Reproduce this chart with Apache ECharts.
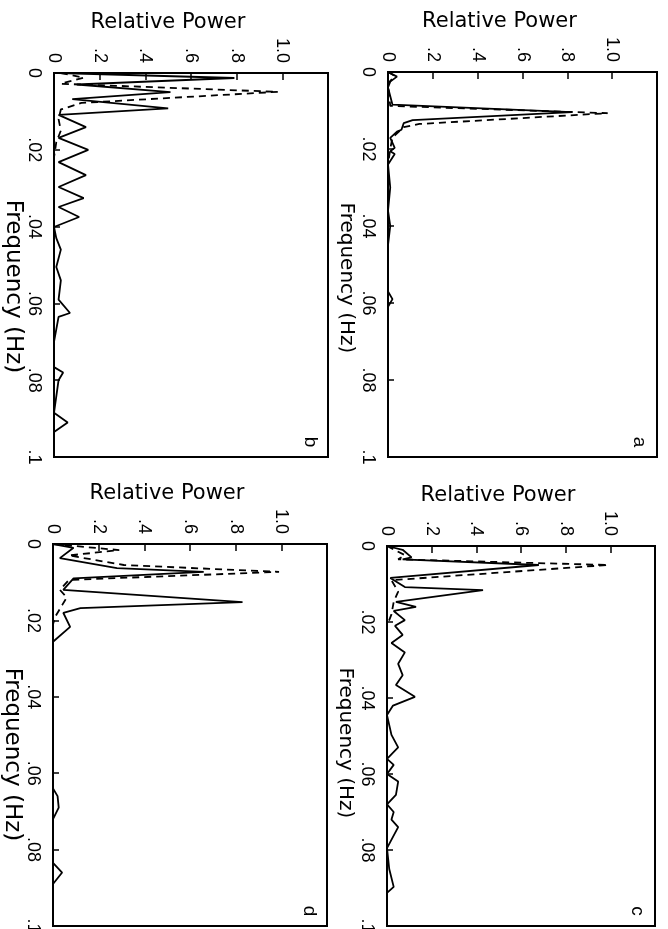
<!DOCTYPE html>
<html>
<head>
<meta charset="utf-8">
<title>Relative Power spectra</title>
<script src="https://cdn.jsdelivr.net/npm/echarts@6/dist/echarts.min.js"></script>
<style>
html, body { margin: 0; padding: 0; background: #fff; }
#chart { width: 668px; height: 929px; }
</style>
</head>
<body>
<div id="chart"></div>
<script>
// each point is [frequency (Hz), relative power]
const bSolid = [
    [0, 0.02], [0.0013, 0.79], [0.003, 0.10], [0.005, 0.51], [0.0068, 0.08], [0.0092, 0.50],
    [0.0109, 0.02], [0.0141, 0.14], [0.0169, 0.02], [0.020, 0.15], [0.0232, 0.02], [0.0266, 0.14],
    [0.0297, 0.02], [0.0326, 0.13], [0.0349, 0.02], [0.0375, 0.11], [0.0401, 0.0], [0.043, 0.01],
    [0.046, 0.03], [0.0505, 0.01], [0.054, 0.03], [0.059, 0.02], [0.0625, 0.07], [0.0635, 0.02],
    [0.070, 0.0], [0.0766, 0.0], [0.078, 0.04], [0.080, 0.02], [0.0885, 0.0], [0.091, 0.06],
    [0.0935, 0.0], [0.1, 0.0]
];
const bDashed = [
    [0, 0.03], [0.0012, 0.13], [0.0028, 0.03], [0.0049, 0.98], [0.0078, 0.12], [0.0095, 0.03],
    [0.012, 0.02], [0.015, 0.03], [0.018, 0.01], [0.022, 0.0], [0.1, 0.0]
];
const aSolid = [
    [0, 0.0], [0.0012, 0.04], [0.0025, 0.01], [0.004, 0.0], [0.0085, 0.02], [0.0104, 0.82],
    [0.0125, 0.11], [0.0133, 0.07], [0.015, 0.06], [0.0155, 0.04], [0.0171, 0.01], [0.0197, 0.03],
    [0.0206, 0.01], [0.0213, 0.03], [0.024, 0.0], [0.030, 0.01], [0.036, 0.0], [0.040, 0.01],
    [0.045, 0.0], [0.057, 0.0], [0.059, 0.02], [0.061, 0.0], [0.1, 0.0]
];
const aDashed = [
    [0, 0.0], [0.001, 0.03], [0.003, 0.0], [0.0088, 0.01], [0.0107, 0.98], [0.0135, 0.14],
    [0.0143, 0.07], [0.017, 0.02], [0.020, 0.01], [0.024, 0.0], [0.1, 0.0]
];
const dSolid = [
    [0, 0.0], [0.001, 0.09], [0.0037, 0.03], [0.0063, 0.28], [0.0073, 0.66], [0.009, 0.09],
    [0.012, 0.045], [0.0152, 0.83], [0.0168, 0.12], [0.018, 0.045], [0.0217, 0.075], [0.0256, 0.0],
    [0.064, 0.0], [0.066, 0.02], [0.069, 0.025], [0.072, 0.0], [0.0835, 0.0], [0.086, 0.04],
    [0.089, 0.0], [0.1, 0.0]
];
const dDashed = [
    [0, 0.0], [0.0016, 0.29], [0.003, 0.07], [0.0055, 0.31], [0.0073, 0.99], [0.0094, 0.07],
    [0.012, 0.03], [0.014, 0.06], [0.016, 0.04], [0.019, 0.01], [0.021, 0.0], [0.1, 0.0]
];
const cSolid = [
    [0, 0.0], [0.001, 0.07], [0.003, 0.11], [0.0035, 0.07], [0.005, 0.68], [0.0084, 0.015],
    [0.0108, 0.08], [0.0116, 0.43], [0.0147, 0.04], [0.016, 0.13], [0.0171, 0.03], [0.0195, 0.08],
    [0.021, 0.036], [0.0234, 0.07], [0.0255, 0.02], [0.028, 0.08], [0.031, 0.05], [0.034, 0.07],
    [0.0366, 0.04], [0.0397, 0.125], [0.042, 0.027], [0.0445, 0.0], [0.0497, 0.02], [0.053, 0.05],
    [0.056, 0.0], [0.0576, 0.03], [0.060, 0.0], [0.062, 0.05], [0.0655, 0.04], [0.068, 0.0],
    [0.070, 0.03], [0.072, 0.02], [0.074, 0.05], [0.0795, 0.0], [0.085, 0.01], [0.0897, 0.03],
    [0.0913, 0.0], [0.1, 0.0]
];
const cDashed = [
    [0, 0.0], [0.0024, 0.08], [0.0035, 0.05], [0.005, 0.99], [0.009, 0.02], [0.012, 0.05],
    [0.0147, 0.03], [0.018, 0.02], [0.021, 0.0], [0.1, 0.0]
];

const powerName = 'Relative Power';
const freqName = 'Frequency (Hz)';

const panels = [
    { letter: 'b', left: 54, top: 73, width: 274, height: 384, solid: bSolid, dashed: bDashed, nameSize: 23, nameGap: 28, namePad: 43 },
    { letter: 'a', left: 388, top: 72, width: 269, height: 385, solid: aSolid, dashed: aDashed, nameSize: 20, nameGap: 32, namePad: 27 },
    { letter: 'd', left: 53, top: 544, width: 274, height: 382, solid: dSolid, dashed: dDashed, nameSize: 23, nameGap: 28, namePad: 39 },
    { letter: 'c', left: 387, top: 546, width: 268, height: 380, solid: cSolid, dashed: cDashed, nameSize: 20, nameGap: 32, namePad: 14 }
];

function powerLabel(v) {
    if (v > 1.01) return '';
    if (v === 0) return '0';
    if (Math.abs(v - 1) < 1e-9) return '1.0';
    return v.toFixed(1).replace(/^0/, '');
}
function freqLabel(v) {
    if (v === 0) return '0';
    return String(+v.toFixed(2)).replace(/^0/, '');
}
// the spectra are drawn sideways: power runs across, frequency runs down
function toXY(pts) {
    return pts.map(function (d) { return [d[1], d[0]]; });
}

const chart = echarts.init(document.getElementById('chart'), null, { renderer: 'canvas' });

const grid = [], xAxis = [], yAxis = [], series = [], graphic = [];
panels.forEach(function (p, i) {
    grid.push({
        left: p.left, top: p.top, width: p.width, height: p.height,
        show: true, borderColor: '#000', borderWidth: 2,
        outerBoundsMode: 'none', containLabel: false
    });
    xAxis.push({
        gridIndex: i, type: 'value', position: 'top',
        min: 0, max: 1.2, interval: 0.2,
        name: powerName, nameLocation: 'middle', nameGap: 40,
        nameTextStyle: { color: '#000', fontFamily: 'DejaVu Sans', fontSize: 21, padding: [0, 46, 0, 0] },
        axisLine: { show: true, lineStyle: { color: '#000', width: 2 } },
        axisTick: { show: true, inside: true, length: 7, lineStyle: { color: '#000', width: 1.5 } },
        axisLabel: { rotate: -90, margin: 10, color: '#000', fontFamily: 'Liberation Sans', fontSize: 18, formatter: powerLabel },
        splitLine: { show: false }
    });
    yAxis.push({
        gridIndex: i, type: 'value', inverse: true,
        min: 0, max: 0.1, interval: 0.02,
        name: freqName, nameLocation: 'middle', nameRotate: -90, nameGap: p.nameGap,
        nameTextStyle: { color: '#000', fontFamily: 'DejaVu Sans', fontSize: p.nameSize, padding: [0, 0, 0, p.namePad] },
        axisLine: { show: true, lineStyle: { color: '#000', width: 2 } },
        axisTick: { show: true, inside: true, length: 6, lineStyle: { color: '#000', width: 1.5 } },
        axisLabel: { rotate: -90, margin: 11, color: '#000', fontFamily: 'Liberation Sans', fontSize: 18, formatter: freqLabel },
        splitLine: { show: false }
    });
    series.push({
        type: 'line', xAxisIndex: i, yAxisIndex: i, data: toXY(p.solid),
        symbol: 'none', lineStyle: { color: '#000', width: 1.8 }, z: 3
    });
    series.push({
        type: 'line', xAxisIndex: i, yAxisIndex: i, data: toXY(p.dashed),
        symbol: 'none', lineStyle: { color: '#000', width: 1.8, type: [7, 5] }, z: 3
    });
    graphic.push({
        type: 'text', x: p.left + p.width - 18, y: p.top + p.height - 15,
        rotation: -Math.PI / 2,
        style: { text: p.letter, fill: '#000', font: '19px "Liberation Sans"', align: 'center', verticalAlign: 'middle' }
    });
});

chart.setOption({
    backgroundColor: '#fff',
    animation: false,
    grid: grid,
    xAxis: xAxis,
    yAxis: yAxis,
    series: series,
    graphic: graphic
});
</script>
</body>
</html>
